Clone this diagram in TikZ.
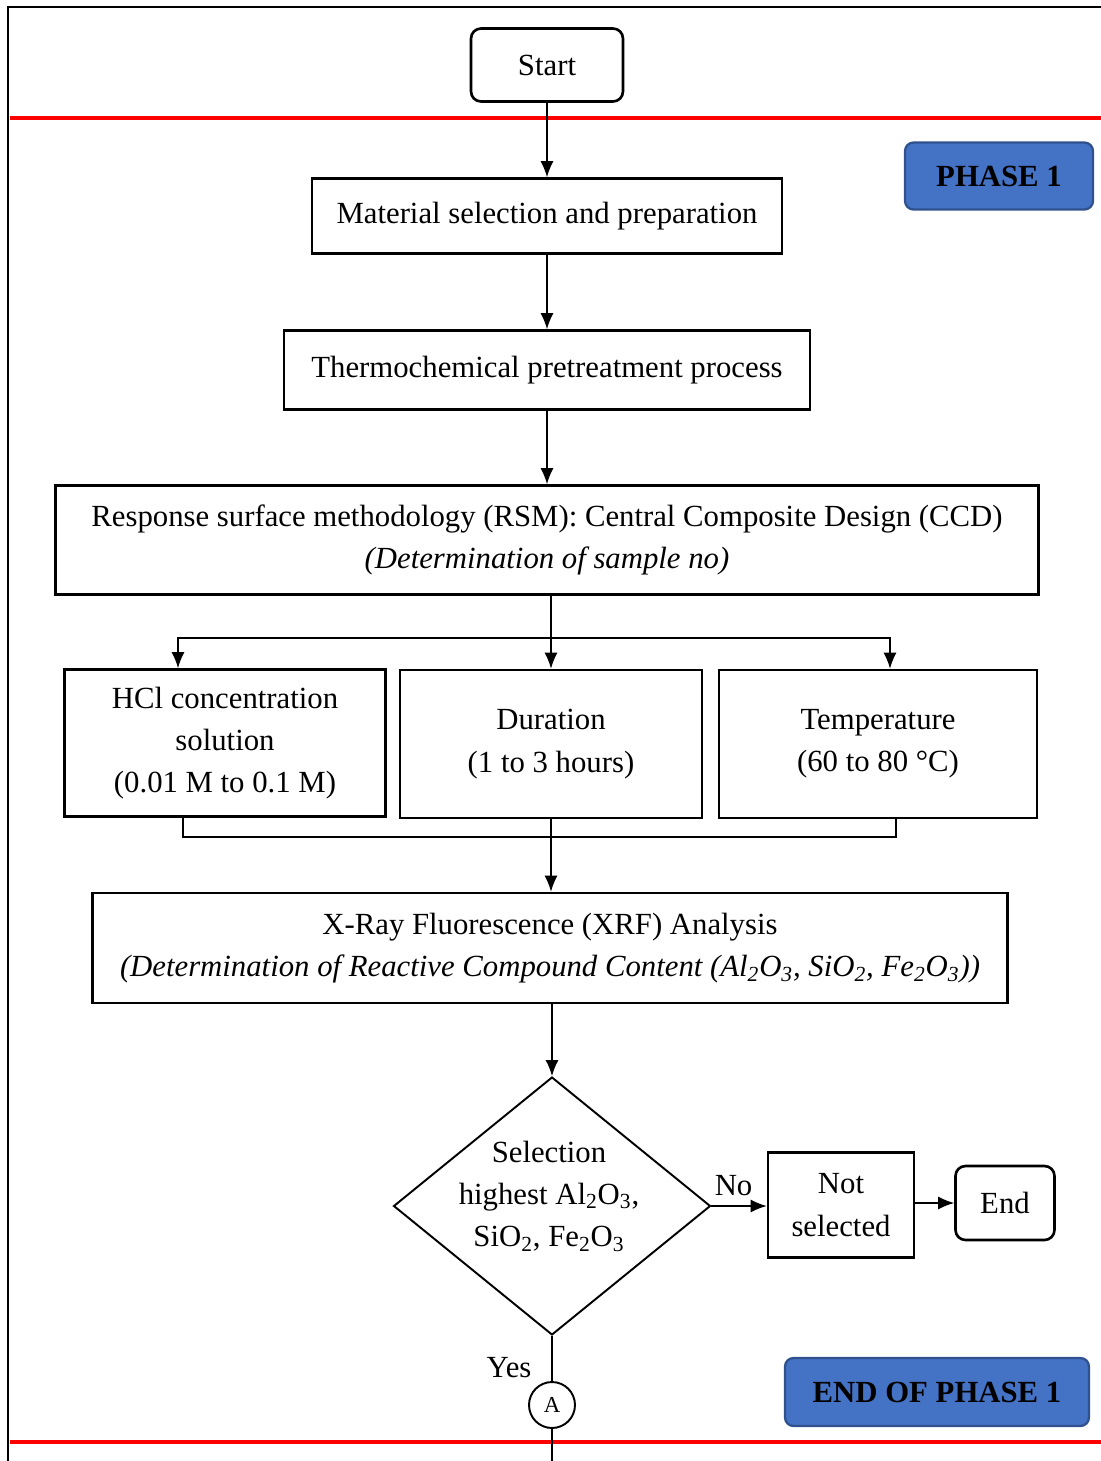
\documentclass[tikz,border=0pt]{standalone}
\usepackage{fontspec}
\setmainfont{Liberation Serif}
\usetikzlibrary{arrows.meta,shapes.geometric}
\definecolor{phaseblue}{RGB}{68,114,196}
\definecolor{phaseedge}{RGB}{47,82,143}
\newcommand{\mainsize}{\fontsize{17.5}{24}\selectfont}
\tikzset{
  box/.style={draw, line width=1.5pt, align=center, inner sep=0pt},
  term/.style={box, rounded corners=0.2cm},
  phase/.style={draw=phaseedge, fill=phaseblue, line width=1.3pt, rounded corners=0.17cm, font=\mainsize\bfseries},
  arr/.style={-{Latex[length=0.32cm,width=0.26cm]}, line width=0.8pt},
  conn/.style={line width=0.8pt}
}
\begin{document}
\begin{tikzpicture}[x=0.02cm, y=-0.02cm, font=\mainsize]
        \useasboundingbox (0,0) rectangle (1101,1461);
        % frame
        \draw[line width=1.7pt] (8,1461) -- (8,7) -- (1101,7);
        \draw[red, line width=2.2pt] (10,118) -- (1101,118);
        \draw[red, line width=2.2pt] (10,1442) -- (1101,1442);
        % phase labels
        \node[phase, minimum width=3.76cm, minimum height=1.34cm] (ph1) at (999,176) {PHASE 1};
        \node[phase, minimum width=6.08cm, minimum height=1.36cm] (ph1end) at (937,1392) {END OF PHASE 1};
        % main boxes
        \node[term, minimum width=3.04cm, minimum height=1.46cm] (start) at (547,65) {Start};
        \node[box, minimum width=9.4cm, minimum height=1.5cm] (mat) at (547,216) {Material selection and preparation};
        \node[box, minimum width=10.52cm, minimum height=1.58cm] (thermo) at (547,370) {Thermochemical pretreatment process};
        \node[box, minimum width=19.66cm, minimum height=2.18cm] (rsm) at (547,540)
          {Response surface methodology (RSM): Central Composite Design (CCD)\\ \textit{(Determination of sample no)}};
        % factors
        \node[box, minimum width=6.42cm, minimum height=2.94cm] (hcl) at (225,743) {HCl concentration\\ solution\\ (0.01 M to 0.1 M)};
        \node[box, minimum width=6.04cm, minimum height=2.96cm] (dur) at (551,744) {Duration\\ (1 to 3 hours)};
        \node[box, minimum width=6.36cm, minimum height=2.96cm] (temp) at (878,744) {Temperature\\ (60 to 80 °C)};
        \node[box, minimum width=18.3cm, minimum height=2.2cm] (xrf) at (550,948)
          {X-Ray Fluorescence (XRF) Analysis\\ \textit{(Determination of Reactive Compound Content (Al\textsubscript{2}O\textsubscript{3}, SiO\textsubscript{2}, Fe\textsubscript{2}O\textsubscript{3}))}};
        % decision
        \node[draw, diamond, line width=1.1pt, minimum width=6.34cm, minimum height=5.16cm, inner sep=0pt] (sel) at (552,1206) {};
        \node[align=center, inner sep=0pt] (seltext) at (549,1196)
          {Selection\\ highest Al\textsubscript{2}O\textsubscript{3},\\ SiO\textsubscript{2}, Fe\textsubscript{2}O\textsubscript{3}};
        \node[box, minimum width=2.92cm, minimum height=2.1cm] (notsel) at (841,1205) {Not\\ selected};
        \node[term, minimum width=1.98cm, minimum height=1.48cm] (end) at (1005,1203) {End};
        \node[draw, circle, line width=1.1pt, minimum size=0.92cm, inner sep=0pt, font=\fontsize{13}{15}\selectfont] (conA) at (552,1405) {A};
        \coordinate (split) at (551,638);
        \coordinate (bottomedge) at (552,1461);
        % connectors
        \draw[arr] (start) -- (mat);
        \draw[arr] (mat) -- (thermo);
        \draw[arr] (thermo) -- (rsm);
        \draw[conn] (rsm.south -| split) -- (split);
        \draw[arr] (split) -| ([xshift=-0.94cm]hcl.north);
        \draw[arr] (split) -- (dur.north);
        \draw[arr] (split) -| ([xshift=0.24cm]temp.north);
        \draw[conn] ([xshift=-0.84cm]hcl.south) -- ++(0,19) -| ([xshift=0.36cm]temp.south);
        \draw[arr] (dur.south) -- (xrf.north -| dur.south);
        \draw[arr] (xrf.south -| sel.north) -- (sel.north);
        \draw[arr] (sel.east) -- node[above=2pt, pos=0.4] {No} (sel.east -| notsel.west);
        \draw[arr] (notsel.east |- end.west) -- (end.west);
        \draw[conn] (sel.south) -- node[left=8pt, pos=0.7] {Yes} (conA.north);
        \draw[conn] (conA.south) -- (bottomedge);
    \end{tikzpicture}
\end{document}
